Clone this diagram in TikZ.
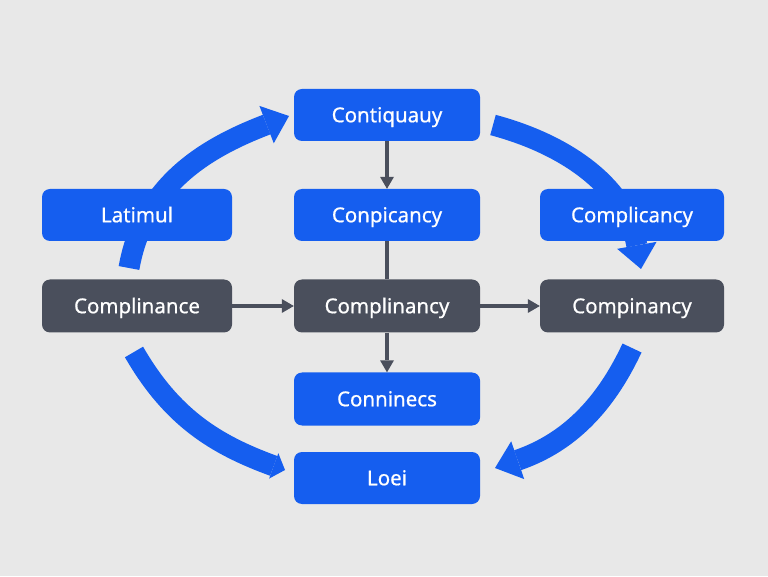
\documentclass[tikz,border=0pt]{standalone}
\usepackage{fontspec}
\setmainfont{Noto Sans}[FakeBold=0.7]
\usetikzlibrary{arrows.meta}
\definecolor{bg}{RGB}{232,232,232}
\definecolor{bl}{RGB}{21,94,239}
\definecolor{dk}{RGB}{74,79,92}
\begin{document}
\begin{tikzpicture}[x=1pt,y=1pt,
  box/.style={rounded corners=8pt, minimum width=186pt, minimum height=52pt, inner sep=0pt,
    text height=14.5pt, text depth=0pt, text=white, font=\fontsize{20.5}{24}\selectfont},
  bbox/.style={box, fill=bl},
  dbox/.style={box, fill=dk},
  flow/.style={draw=bl, line width=21pt, -{Triangle[width=40pt,length=24pt,line width=0pt]}},
  flowend/.style={draw=bl, line width=21pt, -{Triangle[width=27pt,length=12pt,line width=0pt]}},
  conn/.style={draw=dk, line width=3.5pt, -{Triangle[width=14pt,length=12pt,line width=0pt]}},
  connplain/.style={draw=dk, line width=3.5pt},
]
\fill[bg] (0,0) rectangle (768,576);
\useasboundingbox (0,0) rectangle (768,576);

% free ends of the blue flow arcs
\coordinate (a1s) at (129,308);
\coordinate (a1e) at (289,460);
\coordinate (a2s) at (493,451);
\coordinate (a2e) at (641,307);
\coordinate (a3s) at (632,228);
\coordinate (a3e) at (495,108);
\coordinate (a4s) at (134,224);
\coordinate (a4e) at (285,106);

\draw[flow] (a1s) to[out=80,in=201] (a1e);
\draw[flow] (a2s) to[out=-15,in=100] (a2e);
\draw[flow] (a3s) to[out=-115,in=19] (a3e);
\draw[flowend] (a4s) to[out=-60,in=160] (a4e);

% boxes
\node[bbox] (top) at (387,461) {Contiquauy};
\node[bbox] (mid) at (387,361) {Conpicancy};
\node[bbox, minimum width=190pt] (lat) at (137,361) {Latimul};
\node[bbox, minimum width=184pt] (cpl) at (632,361) {Complicancy};
\node[dbox, minimum width=190pt, minimum height=53pt] (cl) at (137,270) {Complinance};
\node[dbox, minimum height=53pt] (cc) at (387,270) {Complinancy};
\node[dbox, minimum width=184pt, minimum height=53pt] (cr) at (632,270) {Compinancy};
\node[bbox, minimum height=53pt] (conn) at (387,177) {Conninecs};
\node[bbox] (loei) at (387,98) {Loei};

% dark connectors
\draw[conn] (top.south) -- (mid.north);
\draw[connplain] (mid.south) -- (cc.north);
\draw[conn] (cc.south) -- (conn.north);
\draw[conn] (cl.east) -- (cc.west);
\draw[conn] (cc.east) -- (cr.west);
\end{tikzpicture}
\end{document}
